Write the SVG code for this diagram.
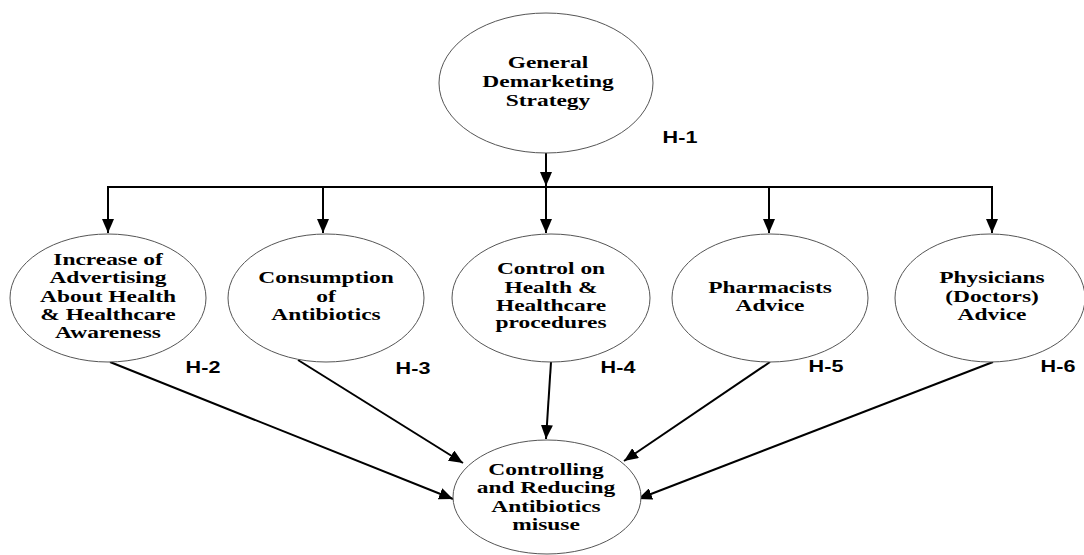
<svg xmlns="http://www.w3.org/2000/svg" width="1084" height="555" viewBox="0 0 1084 555">
<defs>
<style>
.node{fill:#fff;stroke:#555;stroke-width:1}
.lbl{font-family:"Liberation Serif","Times New Roman",serif;font-weight:bold;font-size:16.5px;fill:#000;text-anchor:middle}
.h{font-family:"Liberation Sans",Arial,sans-serif;font-weight:bold;font-size:16px;fill:#000;text-anchor:middle}
.ln{fill:none;stroke:#000;stroke-width:2}
</style>
<marker id="ah" markerUnits="userSpaceOnUse" markerWidth="15" markerHeight="12" refX="14" refY="6" orient="auto">
<path d="M0,0 L14,6 L0,12 Z" fill="#000"/>
</marker>
</defs>
<rect width="1084" height="555" fill="#fff"/>

<g id="connectors">
<line class="ln" x1="546" y1="153" x2="546" y2="186" marker-end="url(#ah)"/>
<line class="ln" x1="107" y1="187" x2="993" y2="187"/>
<line class="ln" x1="108" y1="187" x2="108" y2="233" marker-end="url(#ah)"/>
<line class="ln" x1="323" y1="187" x2="323" y2="233" marker-end="url(#ah)"/>
<line class="ln" x1="546" y1="187" x2="546" y2="233" marker-end="url(#ah)"/>
<line class="ln" x1="769" y1="187" x2="769" y2="233" marker-end="url(#ah)"/>
<line class="ln" x1="992" y1="187" x2="992" y2="233" marker-end="url(#ah)"/>
<line class="ln" x1="110" y1="362" x2="453" y2="499" marker-end="url(#ah)"/>
<line class="ln" x1="298" y1="360" x2="463" y2="463" marker-end="url(#ah)"/>
<line class="ln" x1="551" y1="362" x2="546" y2="439" marker-end="url(#ah)"/>
<line class="ln" x1="770" y1="362" x2="624" y2="461" marker-end="url(#ah)"/>
<line class="ln" x1="993" y1="362" x2="638" y2="499" marker-end="url(#ah)"/>
</g>

<g id="labels">
<g transform="translate(680,0) scale(1.35,1)"><text class="h" x="0" y="143">H-1</text></g>
<g transform="translate(203,0) scale(1.35,1)"><text class="h" x="0" y="373">H-2</text></g>
<g transform="translate(413,0) scale(1.35,1)"><text class="h" x="0" y="374">H-3</text></g>
<g transform="translate(618,0) scale(1.35,1)"><text class="h" x="0" y="373">H-4</text></g>
<g transform="translate(826,0) scale(1.35,1)"><text class="h" x="0" y="372">H-5</text></g>
<g transform="translate(1058,0) scale(1.35,1)"><text class="h" x="0" y="372">H-6</text></g>
</g>

<g id="general">
<ellipse class="node" cx="546" cy="83" rx="107" ry="70"/>
<g transform="translate(548,0) scale(1.42,1)">
<text class="lbl" x="0" y="68">General</text>
<text class="lbl" x="0" y="87">Demarketing</text>
<text class="lbl" x="0" y="106">Strategy</text>
</g>
</g>

<g id="advertising">
<ellipse class="node" cx="108" cy="298" rx="98" ry="64"/>
<g transform="translate(108,0) scale(1.42,1)">
<text class="lbl" x="0" y="265">Increase of</text>
<text class="lbl" x="0" y="283">Advertising</text>
<text class="lbl" x="0" y="302">About Health</text>
<text class="lbl" x="0" y="320">&amp; Healthcare</text>
<text class="lbl" x="0" y="338">Awareness</text>
</g>
</g>

<g id="consumption">
<ellipse class="node" cx="326" cy="298" rx="98" ry="64"/>
<g transform="translate(326,0) scale(1.42,1)">
<text class="lbl" x="0" y="283">Consumption</text>
<text class="lbl" x="0" y="302">of</text>
<text class="lbl" x="0" y="320">Antibiotics</text>
</g>
</g>

<g id="control">
<ellipse class="node" cx="551" cy="298" rx="99" ry="64"/>
<g transform="translate(551,0) scale(1.42,1)">
<text class="lbl" x="0" y="274">Control on</text>
<text class="lbl" x="0" y="293">Health &amp;</text>
<text class="lbl" x="0" y="311">Healthcare</text>
<text class="lbl" x="0" y="328">procedures</text>
</g>
</g>

<g id="pharmacists">
<ellipse class="node" cx="770" cy="298" rx="98" ry="64"/>
<g transform="translate(770,0) scale(1.42,1)">
<text class="lbl" x="0" y="293">Pharmacists</text>
<text class="lbl" x="0" y="311">Advice</text>
</g>
</g>

<g id="physicians">
<ellipse class="node" cx="990" cy="298" rx="95" ry="64"/>
<g transform="translate(992,0) scale(1.42,1)">
<text class="lbl" x="0" y="283">Physicians</text>
<text class="lbl" x="0" y="302">(Doctors)</text>
<text class="lbl" x="0" y="320">Advice</text>
</g>
</g>

<g id="outcome">
<ellipse class="node" cx="547" cy="497" rx="94" ry="57"/>
<g transform="translate(546,0) scale(1.42,1)">
<text class="lbl" x="0" y="475">Controlling</text>
<text class="lbl" x="0" y="493">and Reducing</text>
<text class="lbl" x="0" y="512">Antibiotics</text>
<text class="lbl" x="0" y="530">misuse</text>
</g>
</g>
</svg>
